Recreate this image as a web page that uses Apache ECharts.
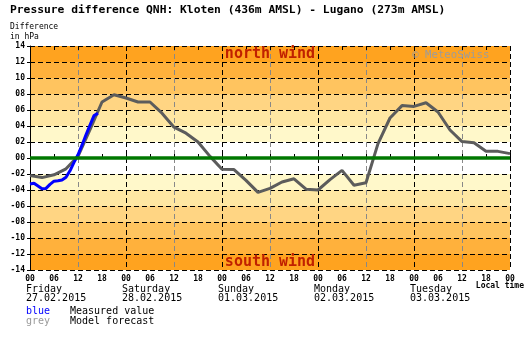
<!DOCTYPE html>
<html><head><meta charset="utf-8">
<script src="https://cdn.jsdelivr.net/npm/echarts@6/dist/echarts.min.js"></script>
<style>html,body{margin:0;padding:0;background:#fff}#c{width:531px;height:360px}</style>
</head><body><div id="c"></div><script>
// ---- data ----
const forecastHours = [0,3,6,9,12,15,18,21,24,27,30,33,36,39,42,45,48,51,54,57,60,63,66,69,72,75,78,81,84,87,90,93,96,99,102,105,108,111,114,117,120];
const forecastValues = [-2.2,-2.45,-2.1,-1.35,0.2,3.55,7.0,7.9,7.5,7.0,7.0,5.6,3.85,3.1,2.0,0.2,-1.4,-1.45,-2.8,-4.3,-3.8,-3.0,-2.6,-3.9,-4.0,-2.7,-1.55,-3.4,-3.1,1.8,5.0,6.55,6.45,6.9,5.75,3.5,2.05,1.9,0.85,0.83,0.55];
const measuredHours = [0,1,2,3,4,5,6,7,8,9,10,11,12,13,14,15,16,17];
const measuredValues = [-3.25,-3.15,-3.5,-3.85,-3.8,-3.3,-2.9,-2.85,-2.75,-2.4,-1.6,-0.55,0.4,1.6,2.9,4.1,5.3,5.6];
const dayNames = ['Friday','Saturday','Sunday','Monday','Tuesday'];
const dayDates = ['27.02.2015','28.02.2015','01.03.2015','02.03.2015','03.03.2015'];
const yMin = -14, yMax = 14, yStep = 2;
const xMin = 0, xMax = 120, xStep = 6;

// ---- styles ----
const mono = '"DejaVu Sans Mono", monospace';
const bandColors = ['#FFA31F','#FFB13C','#FFC45F','#FFD583','#FFE7A3','#FFF8CA','#FFFFFF','#FFFFFF','#FFF8CA','#FFE7A3','#FFD583','#FFC45F','#FFB13C','#FFA31F'];
const pad = n => (n < 10 ? '0' : '') + n;

const chart = echarts.init(document.getElementById('c'), null, {renderer:'canvas'});
const option = {
  animation: false,
  grid: {left:30, right:21, top:46, bottom:90, containLabel:false},
  xAxis: [
    {type:'value', min:xMin, max:xMax, interval:xStep, position:'bottom',
     axisLine:{show:false}, axisTick:{show:true, inside:true, length:4, lineStyle:{color:'#000'}},
     axisLabel:{formatter:v => pad(v % 24), fontFamily:mono, fontWeight:'bold', fontSize:8, color:'#000', margin:5},
     splitLine:{show:false}},
    {type:'value', min:xMin, max:xMax, interval:xStep, position:'top',
     axisLine:{show:false}, axisTick:{show:true, inside:true, length:4, lineStyle:{color:'#000'}},
     axisLabel:{show:false}, splitLine:{show:false}},
    {type:'value', min:xMin, max:xMax, interval:12, position:'bottom',
     axisLine:{show:false}, axisTick:{show:false}, axisLabel:{show:false},
     splitLine:{show:true, lineStyle:{color:['#000','#888'], type:[5,3], width:1}}}
  ],
  yAxis: {type:'value', min:yMin, max:yMax, interval:yStep,
    axisLine:{show:true, lineStyle:{color:'#000', width:1}},
    axisTick:{show:true, length:3, lineStyle:{color:'#000'}},
    axisLabel:{formatter:v => (v < 0 ? '-' + pad(-v) : pad(v)), fontFamily:mono, fontWeight:'bold', fontSize:8, color:'#000', margin:5},
    splitLine:{show:true, lineStyle:{color:'#000', type:[5,3], width:1}},
    splitArea:{show:true, areaStyle:{color:bandColors}}},
  series: [
    {type:'line', name:'Model forecast', data: forecastHours.map((h,i)=>[h, forecastValues[i]]),
     showSymbol:false, lineStyle:{color:'#5c5c5c', width:3}, z:3,
     markLine:{silent:true, symbol:['none','none'], label:{show:false},
       lineStyle:{color:'#007800', width:3.5, type:'solid'}, data:[{yAxis:0}]}},
    {type:'line', name:'Measured value', data: measuredHours.map((h,i)=>[h, measuredValues[i]]),
     showSymbol:false, lineStyle:{color:'#0000ff', width:3}, z:4}
  ]
};
chart.setOption(option);

const P = (x,y) => chart.convertToPixel({xAxisIndex:0, yAxisIndex:0}, [x,y]);
const g = [];
g.push({type:'text', left:10, top:5, style:{text:'Pressure difference QNH: Kloten (436m AMSL) - Lugano (273m AMSL)', font:'bold 11.3px ' + mono, fill:'#000'}});
g.push({type:'text', left:10, top:23, style:{text:'Difference', font:'8px ' + mono, fill:'#000'}});
g.push({type:'text', left:10, top:33, style:{text:'in hPa', font:'8px ' + mono, fill:'#000'}});
const pn = P(60, 13), ps = P(60, -13);
g.push({type:'text', x:pn[0], y:pn[1], style:{text:'north wind', font:'bold 15px ' + mono, fill:'#C02000', align:'center', verticalAlign:'middle'}, z:10});
g.push({type:'text', x:ps[0], y:ps[1], style:{text:'south wind', font:'bold 15px ' + mono, fill:'#C02000', align:'center', verticalAlign:'middle'}, z:10});
const pm = P(105.2, 13);
g.push({type:'text', x:pm[0], y:pm[1]+1, style:{text:'\u00a9 MeteoSwiss', font:'10.7px ' + mono, fill:'#9C9C9C', align:'center', verticalAlign:'middle'}, z:10});
dayNames.forEach((d,i) => {
  const p = P(i*24, yMin);
  g.push({type:'text', x:p[0]-4, y:p[1]+14, style:{text:d, font:'10px ' + mono, fill:'#000'}});
  g.push({type:'text', x:p[0]-4, y:p[1]+23, style:{text:dayDates[i], font:'10px ' + mono, fill:'#000'}});
});
const pe = P(xMax, yMin);
g.push({type:'text', x:pe[0]+14, y:pe[1]+12, style:{text:'Local time', font:'bold 8px ' + mono, fill:'#000', align:'right'}});
g.push({type:'text', left:26, top:306, style:{text:'blue', font:'10px ' + mono, fill:'#0000ff'}});
g.push({type:'text', left:26, top:316, style:{text:'grey', font:'10px ' + mono, fill:'#999999'}});
g.push({type:'text', left:70, top:306, style:{text:'Measured value', font:'10px ' + mono, fill:'#000'}});
g.push({type:'text', left:70, top:316, style:{text:'Model forecast', font:'10px ' + mono, fill:'#000'}});
chart.setOption({graphic: g});
</script></body></html>
